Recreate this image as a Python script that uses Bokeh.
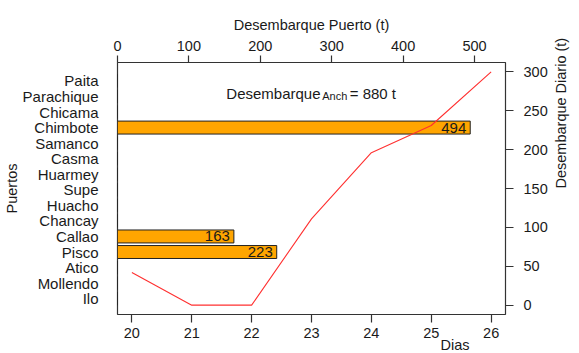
from bokeh.plotting import figure
from bokeh.models import (Range1d, LinearAxis, FixedTicker, Label, Title)
from bokeh.core.properties import value
from bokeh.embed import file_html
from bokeh.resources import INLINE
import math

# ---- data ----
ports = ["Ilo", "Mollendo", "Atico", "Pisco", "Callao", "Chancay", "Huacho",
         "Supe", "Huarmey", "Casma", "Samanco", "Chimbote", "Chicama",
         "Parachique", "Paita"]
port_landings = [0, 0, 0, 223, 163, 0, 0, 0, 0, 0, 0, 494, 0, 0, 0]
days = [20, 21, 22, 23, 24, 25, 26]
daily_landings = [42, 0, 0, 111, 196, 231, 300]
top_ticks = [0, 100, 200, 300, 400, 500]
right_ticks = [0, 50, 100, 150, 200, 250, 300]

FONT = "Liberation Sans"
TXT = "#1a1a1a"
AX = "#333333"

pos = list(range(len(ports)))
total = sum(port_landings)

# ranges (R-style 4% extension)
dspan = max(days) - min(days)
x_days = Range1d(min(days) - 0.04 * dspan, max(days) + 0.04 * dspan)
vspan = max(daily_landings) - min(daily_landings)
y_daily = Range1d(min(daily_landings) - 0.04 * vspan, max(daily_landings) + 0.04 * vspan)

p = figure(width=579, height=353, output_backend="svg", toolbar_location=None,
           x_range=x_days, y_range=y_daily, y_axis_location="right",
           min_border_left=117, min_border_right=71, min_border_top=62,
           min_border_bottom=39)
p.extra_x_ranges = {"puerto": Range1d(0, max(port_landings) * 1.1)}
p.extra_y_ranges = {"ports": Range1d(-1.0167, len(ports) + 0.1833)}

p.xgrid.visible = False
p.ygrid.visible = False
p.outline_line_color = AX
p.outline_line_width = 1.2
p.background_fill_color = "white"
p.border_fill_color = "white"

def style(ax, tick_out, standoff):
    ax.axis_line_color = None
    ax.major_tick_line_color = AX
    ax.major_tick_line_width = 1.2
    ax.major_tick_in = 0
    ax.major_tick_out = tick_out
    ax.minor_tick_line_color = None
    ax.major_label_text_font = FONT
    ax.major_label_text_font_size = "14.5px"
    ax.major_label_text_color = TXT
    ax.major_label_standoff = standoff
    ax.axis_label_text_font = FONT
    ax.axis_label_text_font_size = "14.5px"
    ax.axis_label_text_font_style = "normal"
    ax.axis_label_text_color = TXT

# bottom axis (days)
bx = p.xaxis[0]
bx.ticker = FixedTicker(ticks=days)
style(bx, 8, 5)

# right axis (daily)
ry = p.yaxis[0]
ry.ticker = FixedTicker(ticks=right_ticks)
style(ry, 8, 10)
ry.major_label_orientation = "horizontal"
ry.axis_label = "Desembarque Diario (t)"
ry.axis_label_standoff = 10
ry.axis_label_orientation = math.pi / 2

# top axis (port landings)
top = LinearAxis(x_range_name="puerto", ticker=FixedTicker(ticks=top_ticks),
                 axis_label="Desembarque Puerto (t)")
style(top, 7, 5)
top.axis_label_standoff = 5
p.add_layout(top, "above")

# left axis (port names)
left = LinearAxis(y_range_name="ports", ticker=FixedTicker(ticks=pos),
                  major_label_overrides={i: n for i, n in zip(pos, ports)},
                  axis_label="Puertos")
style(left, 0, 19)
left.major_tick_line_color = None
left.major_label_text_font_size = "15px"
left.axis_label_standoff = 0
p.add_layout(left, "left")

# x-axis title "Dias" (offset to the right, as in the original)
dias = Title(text="Dias", align="right", offset=36, vertical_align="top",
             text_font=FONT, text_font_size="14.5px", text_font_style="normal",
             text_color=TXT)
try:
    dias.standoff = -8
except Exception:
    pass
p.add_layout(dias, "below")

# bars
p.hbar(y=pos, right=port_landings, left=0, height=1 / 1.2,
       x_range_name="puerto", y_range_name="ports",
       fill_color="#FFA500", line_color="#222222", line_width=1)

lab_y = [y for y, v in zip(pos, port_landings) if v > 0]
lab_x = [v for v in port_landings if v > 0]
p.text(x=lab_x, y=lab_y, text=[str(v) for v in lab_x],
       x_range_name="puerto", y_range_name="ports",
       text_align="right", text_baseline="middle", x_offset=-4,
       text_font=value(FONT), text_font_size="15px", text_color=TXT)

# daily line
p.line(days, daily_landings, line_color="#ff3030", line_width=1.1)

# annotation  Desembarque_Anch = 880 t
p.add_layout(Label(x=21.577, y=272.5, text="Desembarque", text_font=FONT,
                   text_font_size="15px", text_color=TXT,
                   text_baseline="alphabetic"))
p.add_layout(Label(x=23.179, y=268.3, text="Anch", text_font=FONT,
                   text_font_size="11px", text_color=TXT,
                   text_baseline="alphabetic"))
p.add_layout(Label(x=23.638, y=272.5, text="= %d t" % total, text_font=FONT,
                   text_font_size="15px", text_color=TXT,
                   text_baseline="alphabetic"))

open("out.html", "w").write(file_html(p, INLINE))
